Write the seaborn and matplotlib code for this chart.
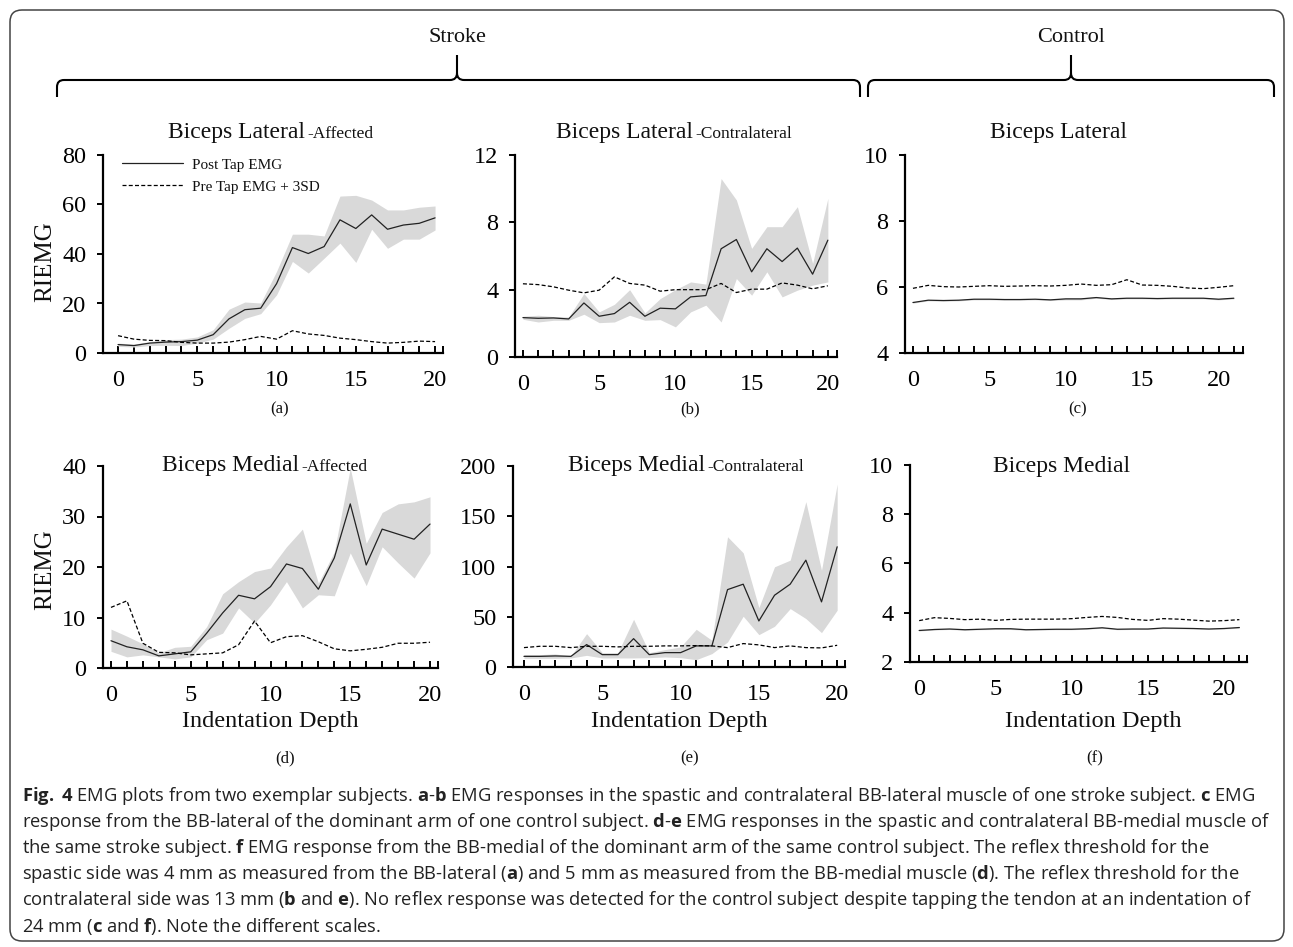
import numpy as np
import pandas as pd
import matplotlib
matplotlib.use("Agg")
import matplotlib.pyplot as plt
import seaborn as sns
from matplotlib.patches import FancyBboxPatch, PathPatch
from matplotlib.path import Path
from matplotlib.transforms import IdentityTransform

# ---------------- data ----------------
depth_stroke = list(range(21))
depth_control = list(range(22))
x_tick_values = [0, 5, 10, 15, 20]
legend_labels = ["Post Tap EMG", "Pre Tap EMG + 3SD"]
group_labels = ["Stroke", "Control"]
titles_main = ["Biceps Lateral", "Biceps Lateral", "Biceps Lateral",
               "Biceps Medial", "Biceps Medial", "Biceps Medial"]
titles_suffix = ["-Affected", "-Contralateral", "", "-Affected", "-Contralateral", ""]
panel_letters = ["(a)", "(b)", "(c)", "(d)", "(e)", "(f)"]
y_label = "RIEMG"
x_label = "Indentation Depth"

# (a) Biceps Lateral - Affected
a_post = [3.4, 3.0, 4.0, 4.4, 4.6, 5.2, 7.4, 13.8, 17.5, 18.1, 28.0, 42.6, 40.2, 43.0, 53.8, 50.3, 55.8, 50.0, 51.7, 52.4, 54.6]
a_hi = [4.0, 3.6, 4.6, 5.4, 5.6, 6.5, 9.4, 17.7, 20.6, 20.2, 33.0, 48.0, 48.0, 47.3, 63.4, 63.7, 61.8, 57.8, 57.8, 58.9, 59.4]
a_lo = [2.7, 2.4, 3.0, 3.1, 3.0, 4.0, 5.6, 10.0, 14.0, 15.9, 23.5, 37.0, 32.3, 38.3, 44.4, 36.6, 50.0, 42.3, 46.0, 46.0, 49.7]
a_pre = [7.0, 5.6, 5.1, 5.0, 4.3, 4.0, 4.0, 4.4, 5.4, 6.7, 5.6, 9.0, 7.7, 7.1, 6.0, 5.4, 4.6, 4.0, 4.3, 4.8, 4.6]

# (b) Biceps Lateral - Contralateral
b_post = [2.34, 2.30, 2.32, 2.26, 3.21, 2.42, 2.58, 3.25, 2.42, 2.90, 2.86, 3.57, 3.65, 6.43, 6.98, 5.06, 6.43, 5.67, 6.47, 4.92, 6.94]
b_hi = [2.42, 2.48, 2.40, 2.38, 3.77, 2.68, 3.13, 4.00, 2.62, 3.47, 4.00, 4.46, 4.33, 10.6, 9.33, 6.45, 7.74, 7.74, 8.93, 5.56, 9.42]
b_lo = [2.24, 2.08, 2.18, 2.18, 2.54, 2.04, 2.08, 2.48, 2.18, 2.22, 1.79, 2.68, 3.08, 2.08, 4.66, 3.67, 5.06, 3.57, 3.97, 4.27, 4.46]
b_pre = [4.35, 4.30, 4.17, 3.97, 3.81, 3.97, 4.76, 4.37, 4.27, 3.91, 4.00, 4.00, 4.00, 4.37, 3.83, 4.03, 4.03, 4.40, 4.27, 4.05, 4.23]

# (c) Control Biceps Lateral
c_post = [5.53, 5.60, 5.59, 5.60, 5.63, 5.63, 5.62, 5.62, 5.63, 5.61, 5.64, 5.64, 5.68, 5.64, 5.66, 5.66, 5.65, 5.66, 5.66, 5.66, 5.63, 5.66]
c_hi = [5.55, 5.62, 5.61, 5.62, 5.65, 5.65, 5.64, 5.64, 5.65, 5.63, 5.67, 5.67, 5.70, 5.66, 5.68, 5.68, 5.67, 5.68, 5.68, 5.68, 5.65, 5.68]
c_lo = [5.51, 5.58, 5.57, 5.58, 5.61, 5.61, 5.60, 5.60, 5.61, 5.59, 5.61, 5.61, 5.66, 5.62, 5.64, 5.64, 5.63, 5.64, 5.64, 5.64, 5.61, 5.64]
c_pre = [5.96, 6.05, 6.01, 6.00, 6.02, 6.04, 6.02, 6.03, 6.04, 6.03, 6.05, 6.09, 6.05, 6.07, 6.22, 6.06, 6.05, 6.02, 5.97, 5.95, 5.99, 6.04]

# (d) Biceps Medial - Affected
d_post = [5.4, 4.2, 3.6, 2.4, 2.8, 3.2, 6.9, 10.9, 14.4, 13.7, 16.1, 20.6, 19.7, 15.6, 21.8, 32.5, 20.4, 27.5, 26.5, 25.5, 28.5]
d_hi = [7.7, 6.3, 4.8, 3.0, 4.1, 4.3, 8.2, 14.7, 17.1, 19.1, 19.8, 24.0, 27.5, 16.8, 23.0, 39.6, 24.7, 30.8, 32.5, 32.9, 33.9]
d_lo = [3.3, 2.2, 2.6, 2.2, 1.8, 2.2, 5.6, 6.9, 11.9, 8.9, 12.5, 17.1, 11.9, 14.5, 14.3, 22.8, 16.3, 24.0, 20.8, 17.8, 22.8]
d_pre = [12.0, 13.3, 4.9, 3.1, 3.0, 2.6, 2.8, 3.0, 4.6, 9.3, 5.0, 6.2, 6.4, 5.2, 3.8, 3.4, 3.7, 4.1, 4.9, 4.9, 5.1]

# (e) Biceps Medial - Contralateral
e_post = [10.6, 10.6, 11.0, 10.6, 22.3, 12.3, 12.3, 28.2, 12.3, 14.3, 14.3, 21.0, 21.0, 77.0, 82.4, 45.8, 71.4, 82.4, 106.3, 64.8, 119.6]
e_hi = [12.3, 12.3, 13.0, 11.0, 33.2, 14.3, 14.3, 47.5, 14.3, 17.3, 20.0, 37.5, 26.6, 129.6, 113.6, 59.1, 99.7, 106.3, 164.5, 96.3, 182.0]
e_lo = [8.6, 8.6, 8.6, 9.0, 11.6, 9.0, 9.0, 9.0, 9.3, 10.0, 9.3, 7.3, 13.3, 24.9, 50.5, 32.2, 40.5, 58.1, 48.2, 34.2, 56.5]
e_pre = [19.3, 20.6, 20.6, 19.3, 20.6, 20.6, 20.0, 20.6, 20.6, 21.0, 21.0, 21.3, 21.0, 19.3, 23.3, 22.0, 19.3, 21.0, 19.3, 19.0, 21.6]

# (f) Control Biceps Medial
f_post = [3.28, 3.32, 3.34, 3.31, 3.33, 3.35, 3.35, 3.31, 3.32, 3.33, 3.33, 3.35, 3.39, 3.33, 3.34, 3.34, 3.38, 3.37, 3.36, 3.34, 3.36, 3.40]
f_hi = [3.30, 3.34, 3.36, 3.33, 3.35, 3.38, 3.38, 3.33, 3.34, 3.35, 3.35, 3.37, 3.41, 3.35, 3.36, 3.36, 3.40, 3.39, 3.38, 3.36, 3.38, 3.42]
f_lo = [3.26, 3.30, 3.32, 3.29, 3.31, 3.32, 3.32, 3.29, 3.30, 3.31, 3.31, 3.33, 3.37, 3.31, 3.32, 3.32, 3.36, 3.35, 3.34, 3.32, 3.34, 3.38]
f_pre = [3.68, 3.80, 3.77, 3.72, 3.74, 3.69, 3.73, 3.74, 3.74, 3.74, 3.76, 3.81, 3.85, 3.81, 3.73, 3.69, 3.76, 3.74, 3.70, 3.66, 3.68, 3.72]

y_ticks = [[0, 20, 40, 60, 80], [0, 4, 8, 12], [4, 6, 8, 10],
           [0, 10, 20, 30, 40], [0, 50, 100, 150, 200], [2, 4, 6, 8, 10]]

caption_lines = [
    r"$\mathbf{Fig.}$ $\mathbf{4}$ EMG plots from two exemplar subjects. $\mathbf{a}$-$\mathbf{b}$ EMG responses in the spastic and contralateral BB-lateral muscle of one stroke subject. $\mathbf{c}$ EMG",
    r"response from the BB-lateral of the dominant arm of one control subject. $\mathbf{d}$-$\mathbf{e}$ EMG responses in the spastic and contralateral BB-medial muscle of",
    r"the same stroke subject. $\mathbf{f}$ EMG response from the BB-medial of the dominant arm of the same control subject. The reflex threshold for the",
    r"spastic side was 4 mm as measured from the BB-lateral ($\mathbf{a}$) and 5 mm as measured from the BB-medial muscle ($\mathbf{d}$). The reflex threshold for the",
    r"contralateral side was 13 mm ($\mathbf{b}$ and $\mathbf{e}$). No reflex response was detected for the control subject despite tapping the tendon at an indentation of",
    r"24 mm ($\mathbf{c}$ and $\mathbf{f}$). Note the different scales.",
]

# ---------------- style ----------------
sns.set_theme(style="ticks")
plt.rcParams["font.family"] = ["Liberation Serif", "DejaVu Serif"]
plt.rcParams.update({
    "axes.edgecolor": "black", "text.color": "#111111", "xtick.color": "black",
    "ytick.color": "black", "axes.labelcolor": "black",
    "mathtext.fontset": "custom", "mathtext.rm": "Open Sans",
    "mathtext.bf": "Open Sans:bold", "mathtext.it": "Open Sans:italic",
})

W, H = 1293, 947
fig = plt.figure(figsize=(W / 100, H / 100), dpi=100)
fig.patch.set_facecolor("white")


def add_ax(l, t, r, b):
    return fig.add_axes([l / W, 1 - b / H, (r - l) / W, (b - t) / H])


panels = [
    dict(box=(103, 155, 443, 353), x=depth_stroke, post=a_post, lo=a_lo, hi=a_hi, pre=a_pre, xlim=(-0.95, 20.5), ylim=(0, 80)),
    dict(box=(515, 155, 837, 357), x=depth_stroke, post=b_post, lo=b_lo, hi=b_hi, pre=b_pre, xlim=(-0.52, 20.6), ylim=(0, 12)),
    dict(box=(905, 155, 1243, 353), x=depth_control, post=c_post, lo=c_lo, hi=c_hi, pre=c_pre, xlim=(-0.52, 21.6), ylim=(4, 10)),
    dict(box=(103, 466, 438, 668), x=depth_stroke, post=d_post, lo=d_lo, hi=d_hi, pre=d_pre, xlim=(-0.5, 20.5), ylim=(0, 40)),
    dict(box=(513, 466, 845, 667), x=depth_stroke, post=e_post, lo=e_lo, hi=e_hi, pre=e_pre, xlim=(-0.7, 20.5), ylim=(0, 200)),
    dict(box=(910, 465, 1247, 662), x=depth_control, post=f_post, lo=f_lo, hi=f_hi, pre=f_pre, xlim=(-0.6, 21.5), ylim=(2, 10)),
]

dash = (0, (3.2, 1.8))
axes = []
for i, p in enumerate(panels):
    ax = add_ax(*p["box"])
    axes.append(ax)
    df = pd.DataFrame({"depth": p["x"], "post": p["post"], "pre": p["pre"],
                       "lo": p["lo"], "hi": p["hi"]})
    ax.fill_between(df["depth"], df["lo"], df["hi"], color="#d9d9d9", lw=0, zorder=1)
    sns.lineplot(data=df, x="depth", y="post", ax=ax, color="#222222", lw=0.9,
                 label=legend_labels[0] if i == 0 else None, legend=(i == 0), zorder=3)
    sns.lineplot(data=df, x="depth", y="pre", ax=ax, color="black", lw=0.9,
                 linestyle=dash, label=legend_labels[1] if i == 0 else None,
                 legend=(i == 0), zorder=3)
    ax.set_xlabel("")
    ax.set_ylabel("")
    ax.set_xlim(*p["xlim"])
    ax.set_ylim(*p["ylim"])
    ax.patch.set_alpha(0)
    ax.grid(False)
    for s in ["top", "right"]:
        ax.spines[s].set_visible(False)
    for s in ["left", "bottom"]:
        ax.spines[s].set_linewidth(1.6)
    ax.set_yticks(y_ticks[i])
    ax.set_yticklabels([str(v) for v in y_ticks[i]])
    ax.set_xticks(x_tick_values)
    ax.set_xticklabels([str(v) for v in x_tick_values])
    minor = list(p["x"]) + [p["xlim"][1]]
    ax.set_xticks(minor, minor=True)
    ax.tick_params(axis="x", which="both", direction="in", length=5, width=1.4,
                   pad=12, labelsize=17.5)
    ax.tick_params(axis="y", which="major", direction="out", length=4, width=1.4,
                   pad=8, labelsize=17.5)
    if i == 0:
        ax.legend(loc="upper left", bbox_to_anchor=(0.056, 0.985), frameon=False,
                  prop={"family": "Liberation Serif", "size": 11},
                  handlelength=4.0, handletextpad=0.6, labelspacing=0.55,
                  borderpad=0, borderaxespad=0)

# ---------------- titles ----------------
title_pos = [(168, 138), (556, 138), (990, 138), (162, 471), (568, 471), (993, 472)]
for i, (xl, yb) in enumerate(title_pos):
    t = fig.text(xl / W, 1 - yb / H, titles_main[i], fontsize=17, ha="left", va="baseline")
    if titles_suffix[i]:
        axes[i].annotate(titles_suffix[i], xy=(1, 0), xycoords=t, xytext=(1.5, 1.0),
                         textcoords="offset points", ha="left", va="bottom",
                         fontsize=12.5, annotation_clip=False)

# panel letters
letter_pos = [(280, 409), (690, 409), (1078, 409), (285, 758), (690, 758), (1095, 758)]
for lab, (xc, yc) in zip(panel_letters, letter_pos):
    fig.text(xc / W, 1 - yc / H, lab, fontsize=12, ha="center", va="center")

# axis labels
for (xc, yc) in [(270, 721), (679, 721), (1093, 721)]:
    fig.text(xc / W, 1 - yc / H, x_label, fontsize=17.5, ha="center", va="center")
for yc in [262, 570]:
    fig.text(45 / W, 1 - yc / H, y_label, fontsize=18, ha="center", va="center", rotation=90)

# ---------------- group braces ----------------
def brace(x0, x1, xc, y_end=97, y_bar=80, y_tip=55, r=7):
    Y = lambda y: H - y
    verts = [(x0, Y(y_end)), (x0, Y(y_bar + r)), (x0, Y(y_bar)), (x0 + r, Y(y_bar)),
             (xc - r, Y(y_bar)), (xc, Y(y_bar)), (xc, Y(y_bar - r)), (xc, Y(y_tip)),
             (xc, Y(y_bar - r)), (xc, Y(y_bar)), (xc + r, Y(y_bar)),
             (x1 - r, Y(y_bar)), (x1, Y(y_bar)), (x1, Y(y_bar + r)), (x1, Y(y_end))]
    codes = [Path.MOVETO, Path.LINETO, Path.CURVE3, Path.CURVE3,
             Path.LINETO, Path.CURVE3, Path.CURVE3, Path.LINETO,
             Path.MOVETO, Path.CURVE3, Path.CURVE3,
             Path.LINETO, Path.CURVE3, Path.CURVE3, Path.LINETO]
    fig.add_artist(PathPatch(Path(verts, codes), transform=IdentityTransform(),
                             fill=False, lw=1.5, ec="black"))

brace(57, 860, 457)
brace(868, 1274, 1071)
fig.text(457 / W, 1 - 38 / H, group_labels[0], fontsize=16, ha="center", va="center")
fig.text(1071 / W, 1 - 38 / H, group_labels[1], fontsize=16, ha="center", va="center")

# border
fig.add_artist(FancyBboxPatch((10, H - 941), 1274, 931,
                              boxstyle="round,pad=0,rounding_size=12",
                              transform=IdentityTransform(), fill=False,
                              lw=1.1, ec="#444444"))

# ---------------- caption ----------------
cap_texts = []
for k, line in enumerate(caption_lines):
    yc = 796 + 26 * k
    cap_texts.append(fig.text(22 / W, 1 - yc / H, line, fontsize=12.5, ha="left",
                              va="center", family=["Open Sans", "DejaVu Sans"],
                              color="#222222"))
fig.canvas.draw()
rend = fig.canvas.get_renderer()
wmax = max(t.get_window_extent(rend).width for t in cap_texts[:5])
scale = 1248.0 / wmax
for t in cap_texts:
    t.set_fontsize(12.5 * scale)

fig.savefig("out.png", dpi=100)
